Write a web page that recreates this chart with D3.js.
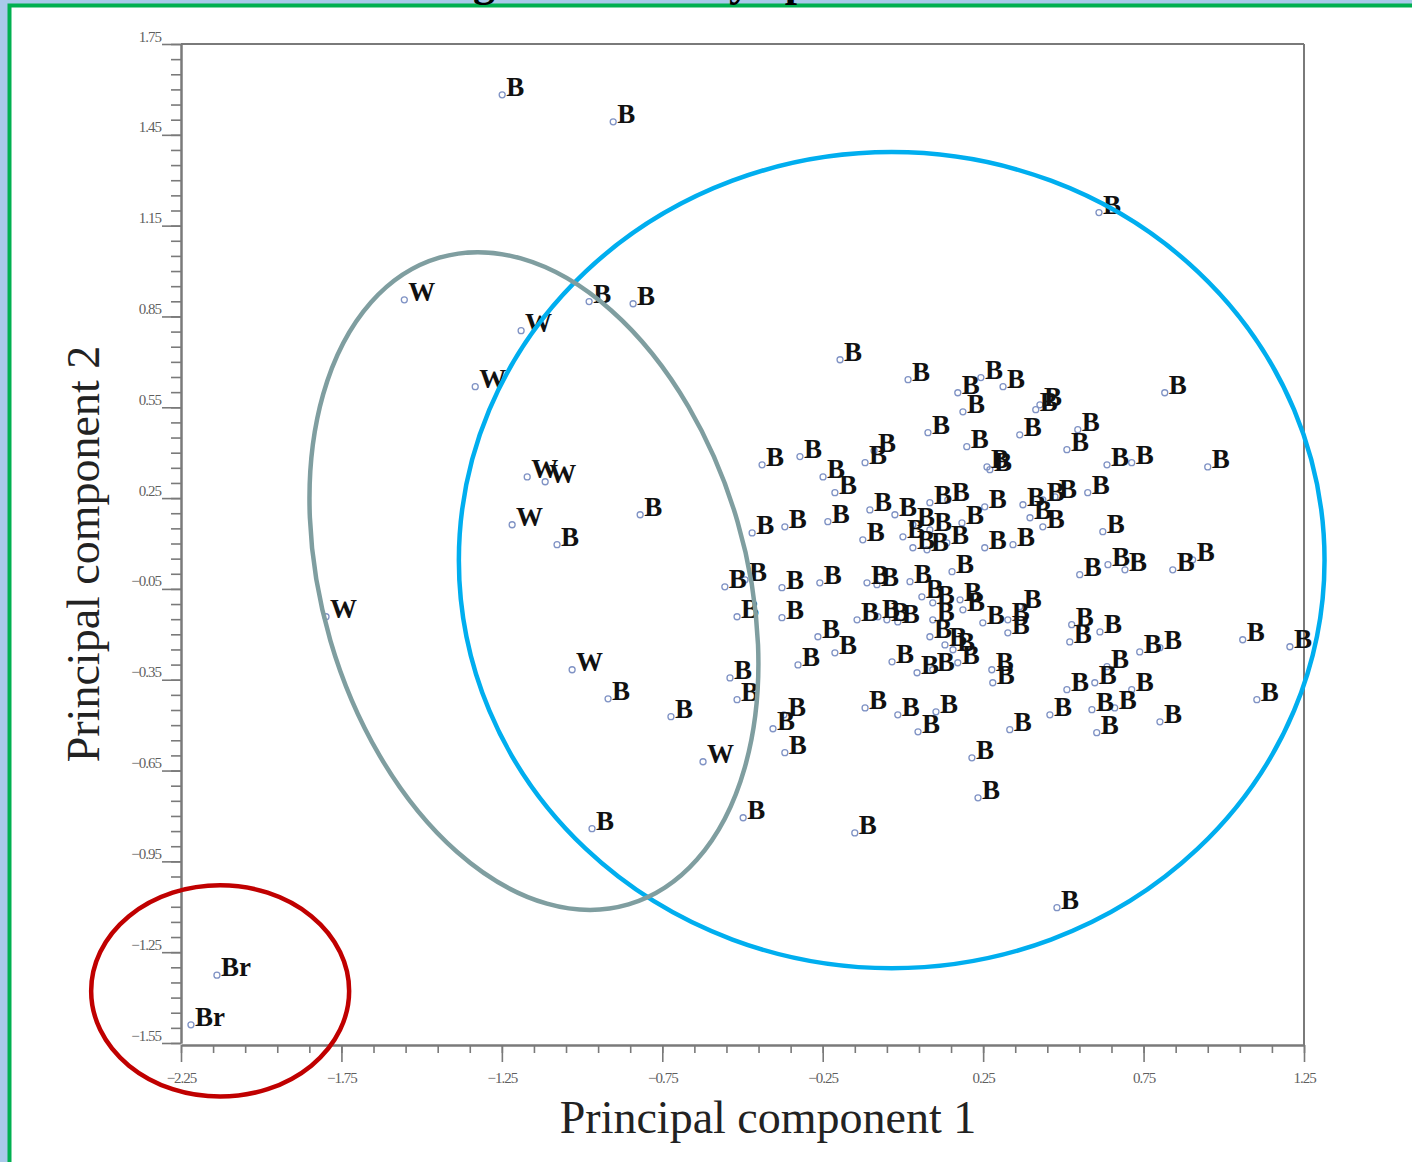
<!DOCTYPE html>
<html>
<head>
<meta charset="utf-8">
<script src="https://cdn.jsdelivr.net/npm/d3@7"></script>
<style>
  body { margin: 0; background: #a9c9ea; }
  svg { display: block; }
</style>
</head>
<body>
<svg width="1412" height="1162"></svg>
<script>
// principal component scores
const bPoints = [
  [-1.249, 1.582], [-0.903, 1.493], [0.611, 1.193], [-0.978, 0.899], [-0.841, 0.892],
  [-1.078, 0.096], [-0.819, 0.195], [-0.919, -0.413], [-0.723, -0.472], [-0.969, -0.842],
  [-0.498, -0.806], [-0.150, -0.856], [0.480, -1.103], [0.234, -0.740], [0.215, -0.608],
  [0.333, -0.515], [0.458, -0.466], [-0.405, -0.512], [-0.371, -0.466], [-0.368, -0.591],
  [-0.118, -0.443], [-0.016, -0.466], [0.047, -0.522], [0.103, -0.456], [-0.539, -0.344],
  [-0.517, -0.416],
  [-0.196, 0.707], [0.016, 0.641], [0.243, 0.648], [0.312, 0.618], [0.171, 0.598],
  [0.187, 0.535], [0.078, 0.466], [0.199, 0.420], [0.262, 0.353], [0.271, 0.344],
  [0.364, 0.459], [-0.321, 0.387], [-0.249, 0.320], [-0.118, 0.367], [-0.090, 0.406],
  [-0.212, 0.268], [-0.439, 0.360], [-0.470, 0.135], [-0.368, 0.155],
  [0.427, 0.558], [0.414, 0.542], [0.545, 0.476], [0.511, 0.410], [0.636, 0.360],
  [0.713, 0.367], [0.950, 0.353], [0.816, 0.598], [0.576, 0.268], [0.374, 0.228],
  [0.436, 0.244], [0.396, 0.185], [0.474, 0.254], [0.436, 0.155], [0.343, 0.096],
  [0.255, 0.086], [0.623, 0.139], [0.551, -0.003], [0.639, 0.030], [0.692, 0.013],
  [0.841, 0.013], [0.903, 0.046], [0.364, -0.109], [0.327, -0.152], [0.327, -0.195],
  [0.526, -0.168], [0.520, -0.225], [0.614, -0.192], [0.738, -0.258], [0.801, -0.244],
  [0.636, -0.307], [0.598, -0.360], [0.511, -0.383], [0.713, -0.383], [1.059, -0.218],
  [1.206, -0.241], [1.103, -0.416], [0.589, -0.449], [0.660, -0.443], [0.604, -0.525],
  [0.801, -0.489],
  [-0.234, 0.172], [-0.103, 0.211], [0.031, 0.162], [0.084, 0.145], [-0.025, 0.195],
  [-0.125, 0.112], [0.084, 0.235], [0.140, 0.244], [0.255, 0.221], [0.184, 0.168],
  [0.000, 0.122], [0.031, 0.086], [0.075, 0.079], [0.137, 0.102], [-0.555, -0.043],
  [-0.492, -0.020], [-0.377, -0.046], [-0.259, -0.030], [-0.112, -0.030], [-0.081, -0.036],
  [0.022, -0.026], [0.153, 0.007], [0.059, -0.076], [0.093, -0.096], [0.178, -0.086],
  [0.187, -0.119], [-0.517, -0.142], [-0.377, -0.145], [-0.143, -0.152], [-0.078, -0.142],
  [-0.050, -0.152], [-0.016, -0.159], [0.093, -0.152], [0.249, -0.162], [-0.265, -0.208],
  [-0.212, -0.261], [-0.327, -0.301], [-0.034, -0.291], [0.084, -0.208], [0.156, -0.251],
  [0.171, -0.294], [0.093, -0.317], [0.044, -0.327], [0.131, -0.235], [0.277, -0.317],
  [0.280, -0.360]
];
const wPoints = [
  [-1.554, 0.905], [-1.190, 0.803], [-1.333, 0.618], [-1.171, 0.320], [-1.115, 0.304],
  [-1.218, 0.162], [-1.798, -0.142], [-1.031, -0.317], [-0.623, -0.621]
];
const brPoints = [[-2.138, -1.326], [-2.219, -1.490]];

const xMajorTicks = [-2.25, -1.75, -1.25, -0.75, -0.25, 0.25, 0.75, 1.25];
const yMajorTicks = [1.75, 1.45, 1.15, 0.85, 0.55, 0.25, -0.05, -0.35, -0.65, -0.95, -1.25, -1.55];

// group ellipses (centre and radii in PC units)
const groups = [
  { label: "B",  cx: -0.035, cy: 0.045,  rx: 1.349, ry: 1.348, angle: 0,     color: "#00aeef" },
  { label: "W",  cx: -1.150, cy: -0.024, rx: 0.661, ry: 1.113, angle: -16.3, color: "#7f9ea0" },
  { label: "Br", cx: -2.128, cy: -1.378, rx: 0.402, ry: 0.349, angle: 0,     color: "#c00000" }
];

const svg = d3.select("svg");

// white panel with green frame
svg.append("rect")
  .attr("x", 9.5).attr("y", 5.5)
  .attr("width", 1420).attr("height", 1170)
  .attr("fill", "#ffffff")
  .attr("stroke", "#00b050")
  .attr("stroke-width", 4);

// bottoms of the cut-off title
const titleBits = [{ t: "g", x: 484 }, { t: "y", x: 740 }, { t: "p", x: 797 }];
svg.selectAll(".title-bit")
  .data(titleBits)
  .enter().append("text")
  .attr("class", "title-bit")
  .attr("x", d => d.x).attr("y", -4)
  .attr("text-anchor", "middle")
  .attr("font-family", "Liberation Serif")
  .attr("font-weight", "bold")
  .attr("font-size", 44)
  .attr("fill", "#000")
  .text(d => d.t);

const x = d3.scaleLinear().domain([-2.25, 1.25]).range([181, 1304]);
const y = d3.scaleLinear().domain([-1.55, 1.75]).range([1043, 44]);

const axisColor = "#7a7a7a";

// frame top & right
svg.append("line")
  .attr("x1", x(-2.25)).attr("x2", x(1.25))
  .attr("y1", y(1.75)).attr("y2", y(1.75))
  .attr("stroke", axisColor).attr("stroke-width", 2);
svg.append("line")
  .attr("x1", x(1.25)).attr("x2", x(1.25))
  .attr("y1", y(1.75)).attr("y2", y(-1.55) + 2)
  .attr("stroke", axisColor).attr("stroke-width", 2);

// minor ticks
const xMinor = d3.range(-2.25, 1.2501, 0.1).map(v => +v.toFixed(2));
const yMinor = d3.range(-1.55, 1.7501, 0.05).map(v => +v.toFixed(2));

const xAxisG = svg.append("g").attr("transform", `translate(0, ${y(-1.55) + 2})`);
xAxisG.append("g")
  .call(d3.axisBottom(x).tickValues(xMinor).tickSize(8).tickFormat("").tickSizeOuter(0));
xAxisG.append("g")
  .call(d3.axisBottom(x).tickValues(xMajorTicks).tickSize(17).tickPadding(10)
    .tickFormat(d3.format(".2f")).tickSizeOuter(0));

const yAxisG = svg.append("g").attr("transform", `translate(${x(-2.25)}, 0)`);
yAxisG.append("g")
  .call(d3.axisLeft(y).tickValues(yMinor).tickSize(10).tickFormat("").tickSizeOuter(0));
yAxisG.append("g")
  .call(d3.axisLeft(y).tickValues(yMajorTicks).tickSize(19).tickPadding(1)
    .tickFormat(d3.format(".2f")).tickSizeOuter(0));

svg.selectAll(".domain").attr("stroke", axisColor).attr("stroke-width", 2);
svg.selectAll(".tick line").attr("stroke", axisColor).attr("stroke-width", 1.6);
svg.selectAll(".tick text")
  .attr("fill", "#5f5f5f")
  .attr("font-family", "Liberation Serif")
  .attr("font-size", 15)
  .attr("letter-spacing", -1);
yAxisG.selectAll(".tick text").attr("dy", "-0.2em");

// axis titles
svg.append("text")
  .attr("x", 768).attr("y", 1133)
  .attr("text-anchor", "middle")
  .attr("font-family", "Liberation Serif")
  .attr("font-size", 46)
  .attr("fill", "#222")
  .text("Principal component 1");
svg.append("text")
  .attr("transform", "translate(99, 554) rotate(-90)")
  .attr("text-anchor", "middle")
  .attr("font-family", "Liberation Serif")
  .attr("font-size", 46)
  .attr("fill", "#222")
  .text("Principal component 2");

// points with their class labels
const allPoints = [
  ...bPoints.map(p => ({ x: p[0], y: p[1], label: "B" })),
  ...wPoints.map(p => ({ x: p[0], y: p[1], label: "W" })),
  ...brPoints.map(p => ({ x: p[0], y: p[1], label: "Br" }))
];

const pts = svg.append("g");
pts.selectAll("circle")
  .data(allPoints)
  .enter().append("circle")
  .attr("cx", d => x(d.x))
  .attr("cy", d => y(d.y))
  .attr("r", 3)
  .attr("fill", "none")
  .attr("stroke", "#7f92c4")
  .attr("stroke-width", 1.3);

pts.selectAll("text")
  .data(allPoints)
  .enter().append("text")
  .attr("x", d => x(d.x) + 4)
  .attr("y", d => y(d.y) + 1)
  .attr("font-family", "Liberation Serif")
  .attr("font-weight", "bold")
  .attr("font-size", 27)
  .attr("fill", "#111")
  .text(d => d.label);

// group ellipses on top
svg.append("g").selectAll("ellipse")
  .data(groups)
  .enter().append("ellipse")
  .attr("transform", d => `translate(${x(d.cx)}, ${y(d.cy)}) rotate(${d.angle})`)
  .attr("rx", d => x(d.cx + d.rx) - x(d.cx))
  .attr("ry", d => y(d.cy) - y(d.cy + d.ry))
  .attr("fill", "none")
  .attr("stroke", d => d.color)
  .attr("stroke-width", 4.5);
</script>
</body>
</html>
